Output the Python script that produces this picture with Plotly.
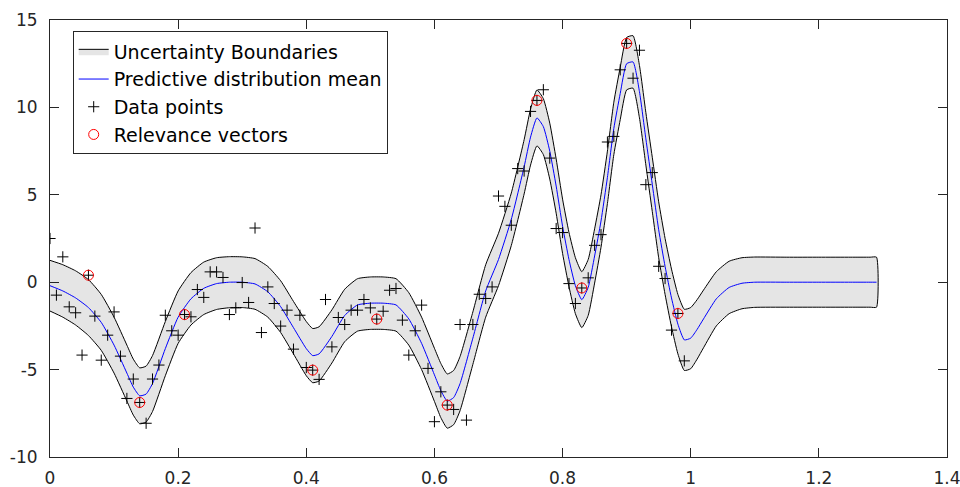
import plotly.graph_objects as go

# observed samples
data_x = [0.00, 0.01, 0.02, 0.03, 0.04, 0.05, 0.06, 0.07, 0.08, 0.09,
          0.10, 0.11, 0.12, 0.13, 0.14, 0.15, 0.16, 0.17, 0.18, 0.19,
          0.20, 0.21, 0.22, 0.23, 0.24, 0.25, 0.26, 0.27, 0.28, 0.29,
          0.30, 0.31, 0.32, 0.33, 0.34, 0.35, 0.36, 0.37, 0.38, 0.39,
          0.40, 0.41, 0.42, 0.43, 0.44, 0.45, 0.46, 0.47, 0.48, 0.49,
          0.50, 0.51, 0.52, 0.53, 0.54, 0.55, 0.56, 0.57, 0.58, 0.59,
          0.60, 0.61, 0.62, 0.63, 0.64, 0.65, 0.66, 0.67, 0.68, 0.69,
          0.70, 0.71, 0.72, 0.73, 0.74, 0.75, 0.76, 0.77, 0.78, 0.79,
          0.80, 0.81, 0.82, 0.83, 0.84, 0.85, 0.86, 0.87, 0.88, 0.89,
          0.90, 0.91, 0.92, 0.93, 0.94, 0.95, 0.96, 0.97, 0.98, 0.99]
data_y = [2.5, -0.74, 1.45, -1.41, -1.75, -4.17, 0.4, -1.94, -4.46, -3.03,
          -1.7, -4.23, -6.65, -5.54, -6.88, -8.07, -5.54, -4.74, -1.89, -2.78,
          -3.03, -1.85, -1.98, -0.42, -0.87, 0.59, 0.59, 0.27, -1.85, -1.47,
          -0.02, -1.16, 3.1, -2.88, -0.27, -1.22, -2.51, -1.6, -3.83, -1.89,
          -4.88, -5.03, -5.56, -0.99, -3.7, -2.02, -2.42, -1.6, -1.6, -0.99,
          -1.47, -2.11, -1.66, -0.46, -0.36, -2.17, -4.17, -2.78, -1.31, -4.93,
          -7.98, -6.27, -7.03, -7.28, -2.42, -7.89, -2.42, -0.69, -0.93, -0.27,
          4.93, 4.34, 3.26, 6.5, 6.36, 9.77, 10.4, 11.01, 7.1, 3.07,
          2.84, -0.08, -1.22, -0.33, 0.25, 2.11, 2.72, 8.02, 8.34, 12.15,
          13.66, 11.67, 13.27, 5.58, 6.27, 0.91, 0.21, -2.74, -1.79, -4.5]

# relevance vectors (subset of the samples)
rv_x = [0.06, 0.14, 0.21, 0.41, 0.51, 0.62, 0.76, 0.83, 0.90, 0.98]
rv_y = [0.4, -6.88, -1.85, -5.03, -2.11, -7.03, 10.4, -0.33, 13.66, -1.79]

# predictive distribution: mean and half width of the uncertainty band
curve_x = [0.00, 0.02, 0.04, 0.06, 0.08, 0.10, 0.12, 0.13, 0.14, 0.15,
           0.16, 0.18, 0.20, 0.22, 0.24, 0.26, 0.28, 0.30, 0.32, 0.34,
           0.36, 0.38, 0.40, 0.41, 0.42, 0.44, 0.46, 0.48, 0.50, 0.52,
           0.54, 0.56, 0.58, 0.60, 0.61, 0.62, 0.63, 0.64, 0.66, 0.68,
           0.70, 0.72, 0.74, 0.75, 0.76, 0.77, 0.78, 0.79, 0.80, 0.81,
           0.82, 0.83, 0.84, 0.85, 0.86, 0.87, 0.88, 0.89, 0.90, 0.91,
           0.92, 0.93, 0.94, 0.95, 0.96, 0.97, 0.98, 0.99, 1.00, 1.01,
           1.02, 1.04, 1.06, 1.08, 1.10, 1.15, 1.20, 1.25, 1.28, 1.29]
mean_y = [-0.2, -0.5, -0.9, -1.45, -2.3, -3.6, -5.2, -6.0, -6.5, -6.4,
          -5.8, -3.8, -2.0, -0.95, -0.35, -0.08, 0.0, 0.0, -0.1, -0.55,
          -1.4, -2.6, -3.8, -4.2, -4.1, -3.1, -1.9, -1.3, -1.2, -1.2,
          -1.3, -2.1, -3.5, -5.3, -6.2, -6.8, -6.6, -5.8, -3.2, -0.5,
          1.3, 3.6, 6.6, 8.3, 9.4, 8.9, 7.5, 5.5, 3.2, 1.3,
          -0.2, -1.0, -0.3, 1.5, 3.5, 6.0, 8.8, 10.8, 12.5, 12.6,
          10.9, 8.2, 5.6, 3.0, 0.9, -0.9, -2.4, -3.3, -3.2, -2.7,
          -2.1, -0.95, -0.3, -0.06, 0.0, 0.0, 0.0, 0.0, 0.0, 0.0]
half_width = [1.45, 1.5, 1.55, 1.6, 1.6, 1.6, 1.6, 1.6, 1.6, 1.6,
              1.6, 1.55, 1.5, 1.5, 1.5, 1.48, 1.46, 1.45, 1.45, 1.45,
              1.48, 1.5, 1.55, 1.55, 1.55, 1.52, 1.5, 1.5, 1.5, 1.5,
              1.5, 1.5, 1.5, 1.52, 1.55, 1.55, 1.55, 1.55, 1.5, 1.5,
              1.5, 1.5, 1.55, 1.6, 1.6, 1.6, 1.6, 1.55, 1.55, 1.55,
              1.6, 1.6, 1.6, 1.55, 1.5, 1.5, 1.5, 1.5, 1.5, 1.5,
              1.5, 1.5, 1.55, 1.6, 1.6, 1.65, 1.7, 1.75, 1.75, 1.7,
              1.65, 1.55, 1.5, 1.46, 1.44, 1.43, 1.43, 1.43, 1.43, 1.43]

# axis ticks
x_ticks = [0, 0.2, 0.4, 0.6, 0.8, 1, 1.2, 1.4]
x_labels = ['0', '0.2', '0.4', '0.6', '0.8', '1', '1.2', '1.4']
y_ticks = [-10, -5, 0, 5, 10, 15]
y_labels = ['-10', '-5', '0', '5', '10', '15']

upper = [m + h for m, h in zip(mean_y, half_width)]
lower = [m - h for m, h in zip(mean_y, half_width)]

FONT = 'DejaVu Sans'
AXIS_COLOR = '#262626'

fig = go.Figure()

# Uncertainty band as a closed polygon
fig.add_trace(go.Scatter(
    x=curve_x + curve_x[::-1],
    y=upper + lower[::-1],
    mode='lines',
    fill='toself',
    fillcolor='#e5e5e5',
    line=dict(color='black', width=1, shape='spline', smoothing=0.5),
    name='Uncertainty Boundaries',
))

fig.add_trace(go.Scatter(
    x=curve_x, y=mean_y,
    mode='lines',
    line=dict(color='#0000ff', width=1, shape='spline', smoothing=0.5),
    name='Predictive distribution mean',
))

fig.add_trace(go.Scatter(
    x=data_x, y=data_y,
    mode='markers',
    marker=dict(symbol='cross-thin', size=8, color='black',
                line=dict(color='black', width=1)),
    name='Data points',
))

fig.add_trace(go.Scatter(
    x=rv_x, y=rv_y,
    mode='markers',
    marker=dict(symbol='circle-open', size=10, color='#ff0000',
                line=dict(color='#ff0000', width=1)),
    name='Relevance vectors',
))

axis_style = dict(
    showline=True, linecolor=AXIS_COLOR, linewidth=1, mirror='ticks',
    ticks='inside', ticklen=9, tickcolor=AXIS_COLOR, tickwidth=1,
    showgrid=False, zeroline=False, automargin=False,
    ticklabeloverflow='allow',
    tickfont=dict(family=FONT, size=17, color=AXIS_COLOR),
)

fig.update_xaxes(range=[0, 1.4], tickvals=x_ticks, ticktext=x_labels,
                 ticklabelstandoff=6, **axis_style)
fig.update_yaxes(range=[-10, 15], tickvals=y_ticks, ticktext=y_labels,
                 ticklabelstandoff=8, **axis_style)

fig.update_layout(
    width=960, height=487,
    margin=dict(l=50, r=13, t=20, b=30),
    plot_bgcolor='white', paper_bgcolor='white',
    font=dict(family=FONT, color='black'),
    legend=dict(
        x=0.0253, y=0.9737, xanchor='left', yanchor='top',
        bgcolor='white', bordercolor=AXIS_COLOR, borderwidth=1,
        font=dict(family=FONT, size=19, color='black'),
    ),
)

# drop the default page margin so the figure fills the window
fig.write_html("out.html", config={'displayModeBar': False},
               post_script="document.body.style.margin = '0';")
